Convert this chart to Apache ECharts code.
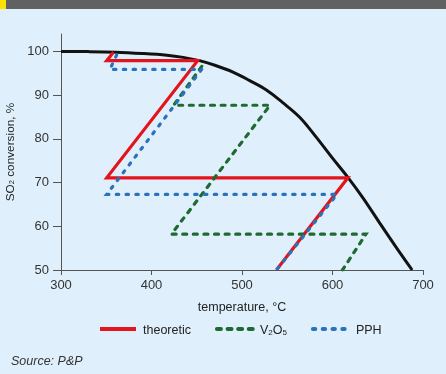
<!DOCTYPE html>
<html>
<head>
<meta charset="utf-8">
<script src="https://cdn.jsdelivr.net/npm/echarts@6/dist/echarts.min.js"></script>
<style>
  html, body { margin: 0; padding: 0; background: #dff0fc; }
  #chart { width: 446px; height: 374px; }
</style>
</head>
<body>
<div id="chart"></div>
<script>
// temperature (°C), SO2 conversion (%)
var equilibrium = [[300, 100], [330, 99.97], [360, 99.85], [390, 99.55], [417, 99.15], [435, 98.65], [453, 97.9],
  [470, 96.85], [490, 95.3], [508, 93.4], [527, 91.2], [545, 88.3], [564, 84.9], [582, 80.4], [600, 75.6],
  [617, 71.2], [634, 66.4], [652, 60.8], [670, 55.3], [688, 50]];
var theoretic = [[358, 99.8], [350.5, 97.9], [451, 97.9], [350.5, 71.1], [617, 71.1], [538, 50]];
var v2o5 = [[455.5, 96.6], [424.5, 87.7], [531, 87.7], [422, 58.2], [637, 58.2], [611, 50]];
var pph = [[361.5, 99.2], [354, 95.9], [455.5, 95.9], [350.5, 67.3], [605, 67.3], [538, 50]];
var xTicks = [300, 400, 500, 600, 700];
var yTicks = [50, 60, 70, 80, 90, 100];
var legendNames = ['theoretic', 'V2O5', 'PPH'];

var font = '"Liberation Sans", Arial, sans-serif';
var axisCol = '#555';

var chart = echarts.init(document.getElementById('chart'));

function pathSeries(name, data, color, type, cap) {
  return {
    name: name,
    type: 'line',
    data: data,
    symbol: 'none',
    showSymbol: false,
    silent: true,
    lineStyle: {
      color: color,
      width: 3.2,
      type: type,
      cap: cap,
      join: 'miter',
      miterLimit: 10
    },
    itemStyle: { color: color },
    z: 3
  };
}

chart.setOption({
  animation: false,
  backgroundColor: '#dff0fc',
  textStyle: { fontFamily: font },
  title: {
    text: 'Source: P&P',
    left: 11,
    top: 355,
    padding: 0,
    textStyle: { fontFamily: font, fontSize: 12.5, fontStyle: 'italic', fontWeight: 'normal', color: '#333' }
  },
  graphic: [
    { type: 'rect', left: 0, top: 0, shape: { width: 446, height: 9 }, style: { fill: '#616161' } },
    { type: 'rect', left: 0, top: 0, shape: { width: 6, height: 9 }, style: { fill: '#ffe100' } }
  ],
  legend: {
    data: legendNames,
    left: 98,
    top: 324,
    padding: 0,
    itemWidth: 36,
    itemHeight: 12,
    itemGap: 24,
    itemStyle: { opacity: 0 },
    lineStyle: { width: 4 },
    formatter: function (name) {
      if (name === 'V2O5') return '{a|V}{s|2}{a|O}{s|5}';
      return '{a|' + name + '}';
    },
    textStyle: {
      padding: [0, 0, 0, 2],
      rich: {
        a: { fontFamily: font, fontSize: 12.5, color: '#222', lineHeight: 16, verticalAlign: 'bottom' },
        s: { fontFamily: font, fontSize: 8, color: '#222', lineHeight: 10, verticalAlign: 'bottom' }
      }
    }
  },
  grid: {
    left: 61,
    right: 23,
    top: 34,
    bottom: 104,
    outerBoundsMode: 'none'
  },
  xAxis: {
    type: 'value',
    min: 300,
    max: 700,
    interval: 100,
    name: 'temperature, °C',
    nameLocation: 'middle',
    nameGap: 31,
    nameTextStyle: { fontFamily: font, fontSize: 12.5, color: '#222' },
    axisLine: { show: true, lineStyle: { color: axisCol, width: 1 } },
    axisTick: { show: true, length: 5, lineStyle: { color: axisCol } },
    axisLabel: { margin: 9, fontFamily: font, fontSize: 13, color: '#333' },
    splitLine: { show: false }
  },
  yAxis: {
    type: 'value',
    min: 50,
    max: 104,
    name: '{a|SO}{s|2}{a| conversion, %}',
    nameLocation: 'middle',
    nameGap: 39,
    nameTextStyle: {
      rich: {
        a: { fontFamily: font, fontSize: 11.8, color: '#222', lineHeight: 15, verticalAlign: 'bottom' },
        s: { fontFamily: font, fontSize: 7.5, color: '#222', lineHeight: 9, verticalAlign: 'bottom' }
      }
    },
    axisLine: { show: true, lineStyle: { color: axisCol, width: 1 } },
    axisTick: { show: true, length: 8, customValues: yTicks, lineStyle: { color: axisCol } },
    axisLabel: { margin: 12, customValues: yTicks, fontFamily: font, fontSize: 13, color: '#333' },
    splitLine: { show: false }
  },
  series: [
    {
      name: 'equilibrium',
      type: 'line',
      data: equilibrium,
      symbol: 'none',
      smooth: 0.35,
      silent: true,
      lineStyle: { color: '#121212', width: 3, join: 'round' },
      z: 2
    },
    pathSeries('theoretic', theoretic, '#e3141c', 'solid', 'butt'),
    pathSeries('V2O5', v2o5, '#1e6a30', [4, 6.6], 'round'),
    pathSeries('PPH', pph, '#2a72bc', [2.4, 7.4], 'round')
  ]
});
</script>
</body>
</html>
